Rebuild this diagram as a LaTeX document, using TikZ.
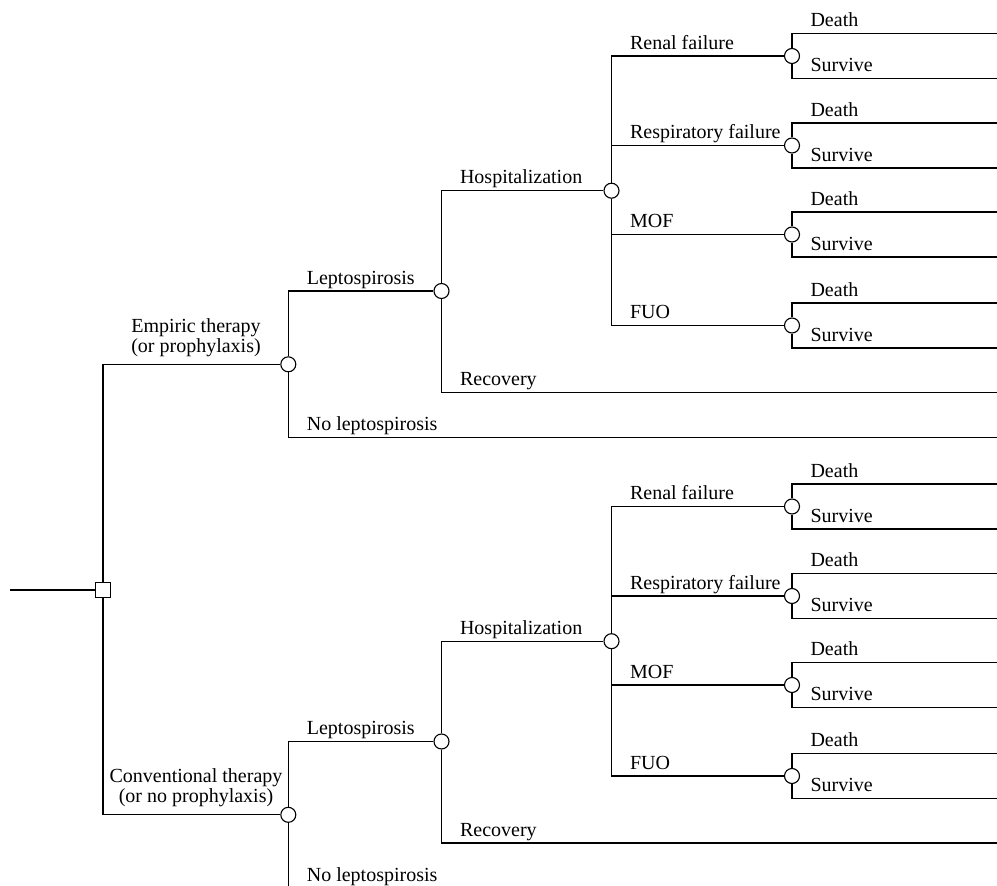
\documentclass[tikz,border=0pt]{standalone}
\usepackage{fontspec}
\setmainfont{Liberation Serif}
\newcommand\halftree[3]{%
\begin{scope}[shift={(0,#2)}]
  \node[chance] (#1c) at (288.3,364.3) {};
  \node[chance] (#1L) at (441.5,291) {};
  \node[chance] (#1H) at (611.5,190.7) {};
  \coordinate (#1noL) at (997,437.7);
  \coordinate (#1rec) at (997,392.5);
  \foreach \n/\yy in {R/56,P/145.5,M/234.5,F/325.5}{
    \node[chance] (#1\n) at (792,\yy) {};
    \coordinate (#1\n d) at (997,{\yy-22.5});
    \coordinate (#1\n s) at (997,{\yy+22.5});
    \draw (#1\n) |- (#1\n d) node[pos=.5,lbl]{Death};
    \draw (#1\n) |- (#1\n s) node[pos=.5,lbl]{Survive};
  }
  \draw (dec) |- (#1c);
  \node[thlbl] (#1th) at (196,364.3) {#3};
  \draw (#1c) |- (#1L) node[pos=.5,lbl]{Leptospirosis};
  \draw (#1c) |- (#1noL) node[pos=.5,lbl]{No leptospirosis};
  \draw (#1L) |- (#1H) node[pos=.5,lbl]{Hospitalization};
  \draw (#1L) |- (#1rec) node[pos=.5,lbl]{Recovery};
  \draw (#1H) |- (#1R) node[pos=.5,lbl]{Renal failure};
  \draw (#1H) |- (#1P) node[pos=.5,lbl]{Respiratory failure};
  \draw (#1H) |- (#1M) node[pos=.5,lbl]{MOF};
  \draw (#1H) |- (#1F) node[pos=.5,lbl]{FUO};
\end{scope}}
\begin{document}
\begin{tikzpicture}[x=1pt,y=-1pt,line width=1.1pt,
  chance/.style={circle,draw,fill=white,minimum size=15pt,inner sep=0pt},
  decision/.style={rectangle,draw,fill=white,minimum size=14.5pt,inner sep=0pt},
  lbl/.style={anchor=base west,inner sep=0pt,xshift=18pt,yshift=7pt,font=\fontsize{20}{20}\selectfont},
  thlbl/.style={anchor=south,inner sep=0pt,yshift=7pt,align=center,font=\fontsize{20}{20}\selectfont}]
\useasboundingbox (0,0) rectangle (997,886);
\clip (0,0) rectangle (997,886);
\node[decision] (dec) at (103,590) {};
\coordinate (st) at (10,590);
\draw (st) -- (dec);
\halftree{t}{0}{Empiric therapy\\(or prophylaxis)}
\halftree{b}{450.5}{Conventional therapy\\(or no prophylaxis)}
\end{tikzpicture}
\end{document}
